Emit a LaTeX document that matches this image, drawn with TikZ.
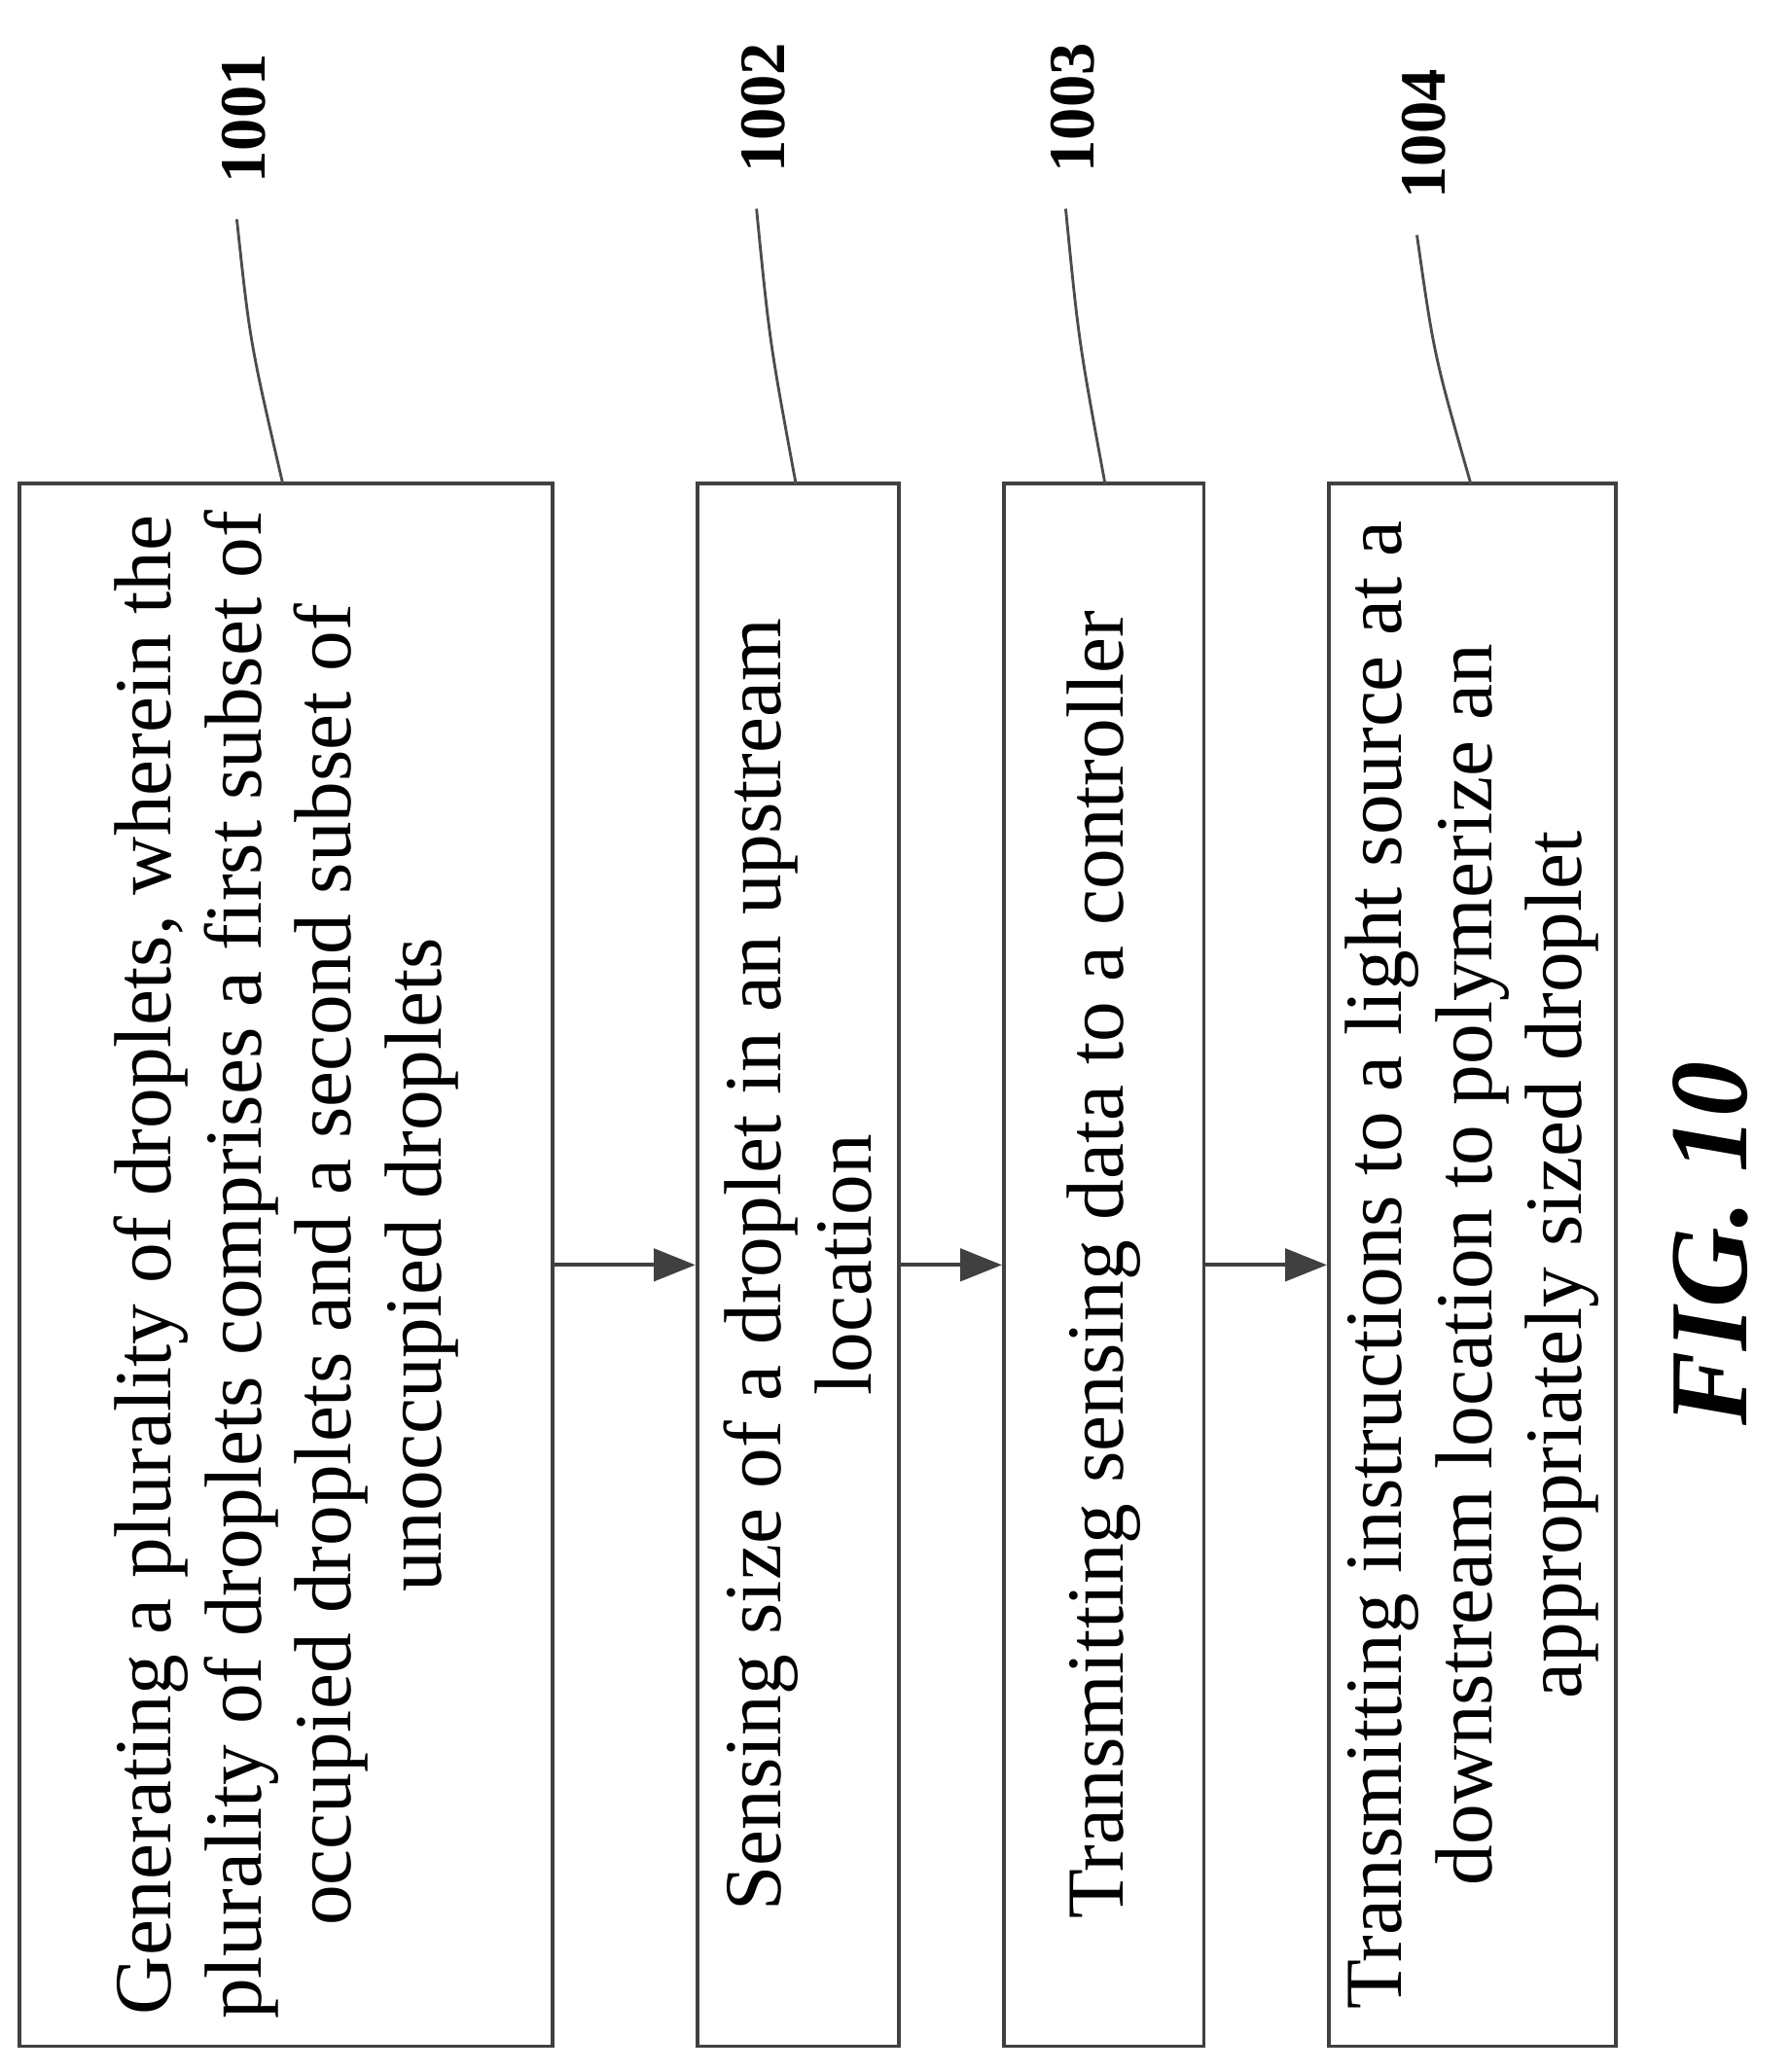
\documentclass[tikz,border=0pt]{standalone}
\usepackage{fontspec}
\setmainfont{Liberation Serif}
\usetikzlibrary{arrows.meta}
\begin{document}
\begin{tikzpicture}[x=0.01cm,y=-0.01cm,
  box/.style={draw=black!75,line width=0.8pt,rotate=90,minimum height=#1,inner sep=0pt,
    minimum width=11.87cm,align=center,font=\fontsize{17.5}{19.5}\selectfont},
  arr/.style={draw=black!75,line width=0.8pt,-{Triangle[length=9pt,width=7pt]}},
  lead/.style={draw=black!70,line width=0.6pt},
  lab/.style={rotate=90,font=\bfseries\fontsize{14}{16}\selectfont}]
\useasboundingbox (0,0) rectangle (1360,1575);
\node[box=4.05cm] (b1) at (217.5,961.5) {Generating a plurality of droplets, wherein the\\ plurality of droplets comprises a first subset of\\ occupied droplets and a second subset of\\ unoccupied droplets};
\node[box=1.53cm] (b2) at (606.5,961.5) {Sensing size of a droplet in an upstream\\ location};
\node[box=1.52cm] (b3) at (839,961.5) {Transmitting sensing data to a controller};
\node[box=2.18cm] (b4) at (1119,961.5) {Transmitting instructions to a light source at a\\ downstream location to polymerize an\\ appropriately sized droplet};
\draw[arr] (b1.south) -- (b2.north);
\draw[arr] (b2.south) -- (b3.north);
\draw[arr] (b3.south) -- (b4.north);
\node[lab] (l1) at (185,90) {1001};
\node[lab] (l2) at (580,82) {1002};
\node[lab] (l3) at (815,82) {1003};
\node[lab] (l4) at (1082,102) {1004};
\coordinate (c1) at (215,368); \coordinate (c2) at (605,368);
\coordinate (c3) at (840,368); \coordinate (c4) at (1118,368);
\draw[lead] (l1.west) ++(-5,15) .. controls (190,260) .. (c1);
\draw[lead] (l2.west) ++(-5,15) .. controls (585,260) .. (c2);
\draw[lead] (l3.west) ++(-5,15) .. controls (820,260) .. (c3);
\draw[lead] (l4.west) ++(-5,15) .. controls (1090,270) .. (c4);
\node[rotate=90,font=\bfseries\itshape\fontsize{24}{28}\selectfont] (fig) at (1300,945) {FIG. 10};
\end{tikzpicture}
\end{document}
